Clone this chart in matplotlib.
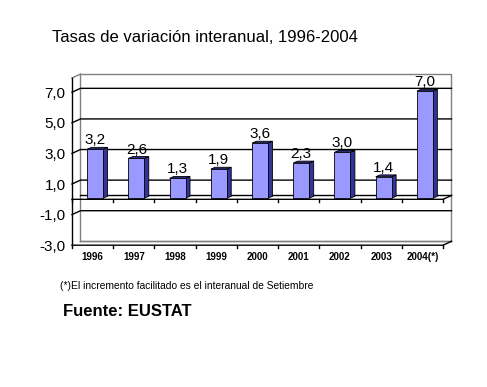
import matplotlib
matplotlib.use('Agg')
import matplotlib.pyplot as plt
from matplotlib.patches import Polygon, Rectangle

plt.rcParams['font.family'] = ['Liberation Sans', 'DejaVu Sans']

years = ['1996', '1997', '1998', '1999', '2000', '2001', '2002', '2003', '2004(*)']
values = [3.2, 2.6, 1.3, 1.9, 3.6, 2.3, 3.0, 1.4, 7.0]
yticks = [-3, -1, 1, 3, 5, 7]
ylabels = ['-3,0', '-1,0', '1,0', '3,0', '5,0', '7,0']

fig = plt.figure(figsize=(4.87, 3.87), dpi=100)
ax = fig.add_axes([0.1478, 0.3664, 0.7793, 0.4421])

# depth of the 3d box (data units) and of the bars
dx, dy = 0.206, 0.255
bdx, bdy = 0.107, 0.12
ymin, ytop = -3, 7.93
n = len(years)
x0, x1 = -0.5, n - 0.5

ax.set_xlim(x0, x1 + dx)
ax.set_ylim(ymin, ytop + dy)
for s in ax.spines.values():
    s.set_visible(False)

wall = '#808080'
kw = dict(clip_on=False, lw=1)
# back wall and left wall outline
ax.plot([x0 + dx, x1 + dx, x1 + dx], [ytop + dy, ytop + dy, ymin + dy], color=wall, **kw)
ax.plot([x0 + dx, x0 + dx], [ymin + dy, ytop + dy], color=wall, **kw)
ax.plot([x0 + dx, x1 + dx], [ymin + dy, ymin + dy], color=wall, **kw)
ax.plot([x0, x0 + dx], [ytop, ytop + dy], color=wall, **kw)
ax.plot([x0, x0], [ymin, ytop], color='black', **kw)
# gridlines on back wall + left wall
for v in yticks[1:]:
    ax.plot([x0, x0 + dx, x1 + dx], [v, v + dy, v + dy], color='black', **kw)
# floor lines at zero and at bottom
for v in [0, ymin]:
    ax.plot([x0 + dx, x1 + dx], [v + dy, v + dy], color='black' if v == 0 else wall, **kw)
    ax.plot([x0, x1, x1 + dx], [v, v, v + dy], color='black', **kw)
    for k in range(n + 1):
        ax.plot([x0 + k, x0 + k], [v, v - 0.2], color='black', **kw)

# bars with a fake 3d look
off_x, off_y = 0.3 * dx, 0.3 * dy
w = 0.388
for i, v in enumerate(values):
    left = i + off_x - w / 2
    right = left + w
    b = off_y
    t = off_y + v
    ax.add_patch(Polygon([(right, b), (right + bdx, b + bdy), (right + bdx, t + bdy), (right, t)],
                         closed=True, facecolor='#333399', edgecolor='black', lw=0.6, zorder=3))
    ax.add_patch(Polygon([(left, t), (right, t), (right + bdx, t + bdy), (left + bdx, t + bdy)],
                         closed=True, facecolor='#333399', edgecolor='black', lw=0.6, zorder=3))
    ax.add_patch(Rectangle((left, b), w, v, facecolor='#9999FF', edgecolor='black', lw=0.6, zorder=4))
    ax.text(i + off_x, t + 0.12, f'{v:.1f}'.replace('.', ','), ha='center', va='bottom',
            fontsize=11, zorder=5)

ax.set_xticks(range(n))
ax.set_xticklabels(years, fontsize=7, fontweight='bold')
ax.set_yticks(yticks)
ax.set_yticklabels(ylabels, fontsize=11)
ax.tick_params(axis='x', length=0, pad=5)
ax.tick_params(axis='y', length=0, pad=4.5)

fig.text(0.107, 0.902, 'Tasas de variación interanual, 1996-2004', fontsize=12, va='center')
fig.text(0.1232, 0.261, '(*)El incremento facilitado es el interanual de Setiembre', fontsize=7.4,
         va='center')
fig.text(0.129, 0.195, 'Fuente: EUSTAT', fontsize=12, fontweight='bold', va='center')

fig.savefig('out.png', dpi=100)
